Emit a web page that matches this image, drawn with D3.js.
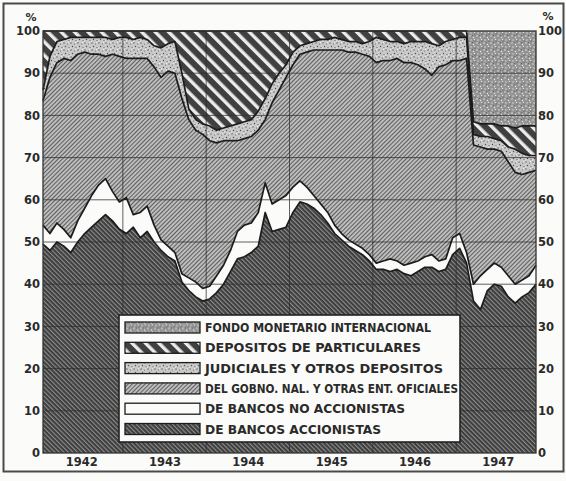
<!DOCTYPE html>
<html>
<head>
<meta charset="utf-8">
<script src="https://cdn.jsdelivr.net/npm/d3@7"></script>
<style>
  body { margin: 0; background: #fbfbf9; }
  svg { display: block; }
  text { font-family: "DejaVu Sans", sans-serif; fill: #2a2a2a; }
</style>
</head>
<body>
<div id="chart"></div>
<script>
// share of total deposits (%), one value per month, Jan 1942 .. Dec 1947
const years = ["1942", "1943", "1944", "1945", "1946", "1947"];

const accionistas = [
  49.5, 48, 50, 49, 47.5, 50, 52, 53.5, 55, 56.5, 55, 53,
  52, 53.5, 51, 52.5, 50, 48, 46.5, 45.5, 40.5, 38.5, 37, 36,
  36.5, 38, 40, 43, 46, 46.5, 47.5, 49, 57, 52.5, 53, 53.5,
  57, 59.5, 59, 58, 56.5, 54.5, 52, 50.5, 49, 48, 47, 45.5,
  43.5, 43.5, 43, 43.5, 42.5, 42, 43, 44, 44, 43, 43.5, 47,
  48.5, 45, 36, 34, 38.5, 40, 39.5, 37, 35.5, 37, 38, 40
];
const noAccionistas = [
  4.5, 4, 4.5, 4, 3.5, 5, 6, 7.5, 8.5, 8.5, 7, 6.5,
  8.5, 3, 6, 6, 4, 2.5, 2.5, 2, 2, 3, 3.5, 3,
  3, 4, 4.5, 5, 6.5, 7.5, 7, 8, 7, 6.5, 7, 7.5,
  6, 5, 4, 3, 2.5, 2.5, 2, 1.5, 1.5, 1.5, 1.5, 1.5,
  1.5, 2, 3, 2, 2, 3, 2.5, 2.5, 3, 2.5, 2.5, 4,
  3.5, 2.5, 4, 8, 5, 5, 4.5, 5, 4.5, 4, 4, 4.5
];
const gobierno = [
  29.5, 37, 38, 40.5, 42, 39.5, 37, 33.5, 31, 29, 32.5, 34.5,
  33, 37, 36.5, 35, 37.5, 38.5, 41.5, 42.5, 41.5, 37.5, 36, 36.5,
  34.5, 31.5, 29.5, 26, 21.5, 20.5, 20.5, 19.5, 15, 24, 26, 28,
  29, 30, 32, 34.5, 36.5, 38.5, 41.5, 43.5, 44.5, 45.5, 46, 47,
  47.5, 47.5, 47, 48, 48, 47.5, 46.5, 44.5, 42.5, 46, 46, 42,
  41, 46, 33, 30.5, 28.5, 27, 27.5, 27, 26.5, 25, 24.5, 22.5
];
const judiciales = [
  2.5, 5, 5, 4.5, 5.5, 4, 3.5, 4, 4, 4.5, 3.5, 4.5,
  5, 4.5, 5, 4.5, 5, 7, 6.5, 7.5, 6, 2.5, 2.5, 2.5,
  3.5, 3, 3, 3.5, 4, 4, 4, 4.5, 5, 4.5, 4, 3,
  3, 2, 2, 2, 2.5, 2.5, 3, 2.5, 2.5, 2.5, 2.5, 3.5,
  6, 5, 4.5, 4, 4.5, 5, 5.5, 6.5, 7.5, 5, 5.5, 5,
  5.5, 5, 2.5, 2.5, 3, 2.5, 2.5, 3.5, 5.5, 5, 4, 3.5
];
const particulares = [
  14, 6, 2.5, 2, 1.5, 1.5, 1.5, 1.5, 1.5, 1.5, 2, 1.5,
  1.5, 2, 1.5, 2, 3.5, 4, 3, 2.5, 10, 18.5, 21, 22,
  22.5, 23.5, 23, 22.5, 22, 21.5, 21, 19, 16, 12.5, 10, 8,
  5, 3.5, 3, 2.5, 2, 2, 1.5, 2, 2.5, 2.5, 3, 2.5,
  1.5, 2, 2.5, 2.5, 3, 2.5, 2.5, 2.5, 3, 3.5, 2.5, 2,
  1.5, 1.5, 3, 3, 3, 3.5, 3.5, 5, 5, 6.5, 7, 7
];
const fondoMonetario = [
  0, 0, 0, 0, 0, 0, 0, 0, 0, 0, 0, 0,
  0, 0, 0, 0, 0, 0, 0, 0, 0, 0, 0, 0,
  0, 0, 0, 0, 0, 0, 0, 0, 0, 0, 0, 0,
  0, 0, 0, 0, 0, 0, 0, 0, 0, 0, 0, 0,
  0, 0, 0, 0, 0, 0, 0, 0, 0, 0, 0, 0,
  0, 0, 21.5, 22, 22, 22, 22.5, 22.5, 23, 22.5, 22.5, 22.5
];

const keys = ["acc", "noacc", "gob", "jud", "part", "fmi"];
const legendLabels = [
  ["fmi", "FONDO MONETARIO INTERNACIONAL", 226],
  ["part", "DEPOSITOS DE PARTICULARES", 216],
  ["jud", "JUDICIALES Y OTROS DEPOSITOS", 238],
  ["gob", "DEL GOBNO. NAL. Y OTRAS ENT. OFICIALES", 253],
  ["noacc", "DE BANCOS NO ACCIONISTAS", 200],
  ["acc", "DE BANCOS ACCIONISTAS", 176]
];

const width = 566, height = 481;
const plot = {left: 43, right: 536, top: 31, bottom: 453};

const table = accionistas.map((v, i) => ({
  i: i, acc: v, noacc: noAccionistas[i], gob: gobierno[i],
  jud: judiciales[i], part: particulares[i], fmi: fondoMonetario[i]
}));

const x = d3.scaleLinear().domain([0, table.length - 1]).range([plot.left, plot.right]);
const y = d3.scaleLinear().domain([0, 100]).range([plot.bottom, plot.top]);

const svg = d3.select("#chart").append("svg")
    .attr("width", width)
    .attr("height", height);

// outer frame of the figure
svg.append("rect")
    .attr("x", 3.5).attr("y", 3.5)
    .attr("width", width - 6).attr("height", 468)
    .attr("fill", "none")
    .attr("stroke", "#4a4a4a")
    .attr("stroke-width", 2);

/////////////
//PATTERNS//
/////////////
const defs = svg.append("defs");

const stripes = function(id, bg, fg, size, w, angle) {
    const p = defs.append("pattern")
        .attr("id", id)
        .attr("patternUnits", "userSpaceOnUse")
        .attr("width", size).attr("height", size)
        .attr("patternTransform", "rotate(" + angle + ")");
    p.append("rect").attr("width", size).attr("height", size).attr("fill", bg);
    p.append("rect").attr("width", w).attr("height", size).attr("fill", fg);
};

const stipple = function(id, bg, dots) {
    const p = defs.append("pattern")
        .attr("id", id)
        .attr("patternUnits", "userSpaceOnUse")
        .attr("width", 7).attr("height", 7);
    p.append("rect").attr("width", 7).attr("height", 7).attr("fill", bg);
    p.selectAll("circle").data(dots).join("circle")
        .attr("cx", d => d[0]).attr("cy", d => d[1])
        .attr("r", d => d[2]).attr("fill", d => d[3]);
};

stripes("pat-acc", "#3e3e3e", "#8e8e8e", 3.2, 1.1, -45);
stripes("pat-gob", "#bdbdbd", "#5e5e5e", 3, 1, 45);
stripes("pat-part", "#404040", "#ececec", 9.5, 3.4, -45);
stipple("pat-jud", "#c9c9c9", [
    [1, 1, 0.7, "#555"], [4.5, 2, 0.6, "#666"], [2.5, 4.5, 0.7, "#4a4a4a"],
    [6, 5.5, 0.6, "#5a5a5a"], [5.5, 0.2, 0.5, "#fff"], [0.5, 6, 0.6, "#f4f4f4"]
]);
stipple("pat-fmi", "#939393", [
    [1, 1, 0.8, "#dedede"], [4.5, 2.5, 0.7, "#ececec"], [2, 5, 0.8, "#d4d4d4"],
    [6, 6, 0.6, "#505050"], [3.5, 0.5, 0.5, "#585858"], [5.5, 4.5, 0.7, "#e2e2e2"]
]);
defs.append("pattern")
    .attr("id", "pat-noacc")
    .attr("patternUnits", "userSpaceOnUse")
    .attr("width", 4).attr("height", 4)
    .append("rect").attr("width", 4).attr("height", 4).attr("fill", "#fbfbf9");

//////////
//LAYERS//
//////////
const series = d3.stack().keys(keys)(table);

const area = d3.area()
    .x(d => x(d.data.i))
    .y0(d => y(d[0]))
    .y1(d => y(d[1]));

svg.append("g")
    .selectAll("path")
    .data(series)
    .join("path")
    .attr("fill", d => "url(#pat-" + d.key + ")")
    .attr("d", area);

// grid over the shaded areas
const grid = svg.append("g")
    .attr("stroke", "#2e2e2e")
    .attr("stroke-opacity", 0.75)
    .attr("stroke-width", 1);

grid.selectAll("line.h")
    .data(d3.range(10, 100, 10))
    .join("line")
    .attr("x1", plot.left).attr("x2", plot.right)
    .attr("y1", d => y(d)).attr("y2", d => y(d));

grid.selectAll("line.v")
    .data(years.slice(1).map((yr, k) => 12 * (k + 1) - 0.5))
    .join("line")
    .attr("y1", plot.top).attr("y2", plot.bottom)
    .attr("x1", d => x(d)).attr("x2", d => x(d));

// boundary lines between layers
const edge = d3.line()
    .x(d => x(d.data.i))
    .y(d => y(d[1]));

svg.append("g")
    .selectAll("path")
    .data(series.filter(s => s.key !== "fmi"))
    .join("path")
    .attr("fill", "none")
    .attr("stroke", "#1c1c1c")
    .attr("stroke-width", 1.7)
    .attr("stroke-linejoin", "round")
    .attr("d", edge);

svg.append("rect")
    .attr("x", plot.left).attr("y", plot.top)
    .attr("width", plot.right - plot.left).attr("height", plot.bottom - plot.top)
    .attr("fill", "none")
    .attr("stroke", "#333")
    .attr("stroke-width", 1.3);

////////
//AXES//
////////
const styleAxis = function(g, size) {
    g.select(".domain").remove();
    g.selectAll("text")
        .attr("fill", "#2a2a2a")
        .style("font-family", "'DejaVu Sans', sans-serif")
        .style("font-weight", "bold")
        .style("font-size", size + "px");
};

svg.append("g")
    .attr("transform", "translate(" + (plot.left - 2) + ",0)")
    .call(d3.axisLeft(y).tickValues(d3.range(0, 101, 10)).tickSize(0).tickPadding(1))
    .call(g => styleAxis(g, 11.5));

svg.append("g")
    .attr("transform", "translate(" + (plot.right + 1) + ",0)")
    .call(d3.axisRight(y).tickValues(d3.range(0, 101, 10)).tickSize(0).tickPadding(1))
    .call(g => styleAxis(g, 11.5));

svg.append("g")
    .attr("transform", "translate(0," + (plot.bottom + 3) + ")")
    .call(d3.axisBottom(x)
        .tickValues(years.map((yr, k) => 12 * k + 5.5))
        .tickFormat((d, k) => years[k])
        .tickSize(0).tickPadding(2))
    .call(g => styleAxis(g, 11.5));

svg.append("text")
    .attr("x", 31).attr("y", 21)
    .attr("text-anchor", "middle")
    .style("font-weight", "bold").style("font-size", "11px")
    .text("%");
svg.append("text")
    .attr("x", 548).attr("y", 20)
    .attr("text-anchor", "middle")
    .style("font-weight", "bold").style("font-size", "11px")
    .text("%");

//////////
//LEGEND//
//////////
const legend = svg.append("g");

legend.append("rect")
    .attr("x", 119).attr("y", 315)
    .attr("width", 341).attr("height", 127)
    .attr("fill", "#fbfbf9")
    .attr("stroke", "#222")
    .attr("stroke-width", 1.6);

const row = legend.selectAll("g.row")
    .data(legendLabels)
    .join("g")
    .attr("class", "row")
    .attr("transform", (d, k) => "translate(0," + (327.5 + k * 20.3) + ")");

row.append("rect")
    .attr("x", 125).attr("y", -5.5)
    .attr("width", 75).attr("height", 11)
    .attr("fill", d => "url(#pat-" + d[0] + ")")
    .attr("stroke", "#1c1c1c")
    .attr("stroke-width", 1.3);

row.append("text")
    .attr("x", 205).attr("y", 4.5)
    .attr("textLength", d => d[2])
    .attr("lengthAdjust", "spacingAndGlyphs")
    .style("font-family", "'DejaVu Sans Condensed', 'DejaVu Sans', sans-serif")
    .style("font-weight", "bold")
    .style("font-size", "12px")
    .text(d => d[1]);
</script>
</body>
</html>
